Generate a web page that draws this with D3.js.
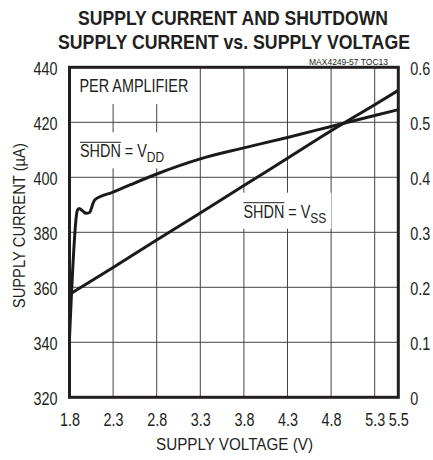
<!DOCTYPE html>
<html>
<head>
<meta charset="utf-8">
<script src="https://cdn.jsdelivr.net/npm/d3@7"></script>
<style>
body { margin: 0; background: #fff; }
svg text { font-family: "Liberation Sans", Arial, Helvetica, sans-serif; fill: #231f20; }
</style>
</head>
<body>
<svg width="433" height="460"></svg>
<script>
//Curve: SHDN = VDD, supply current in uA (left axis)
const vddVolts   = [1.80, 1.89, 1.91, 1.95, 1.99, 2.03, 2.07, 2.09, 2.30, 2.50, 2.80, 3.30, 3.80, 4.30, 4.80, 5.30, 5.50];
const vddCurrent = [341.5, 388.0, 388.7, 387.8, 386.9, 387.2, 390.5, 391.8, 394.6, 397.3, 401.2, 406.7, 410.7, 414.5, 418.5, 422.5, 424.6];
//SHDN = VSS, shutdown supply current in uA (right axis)
const vssVolts   = [1.83, 2.30, 2.80, 3.30, 3.80, 4.30, 4.80, 5.30, 5.50];
const vssCurrent = [0.190, 0.236, 0.286, 0.335, 0.385, 0.4345, 0.4845, 0.532, 0.558];
//Tick labels
const xTicks  = [1.8, 2.3, 2.8, 3.3, 3.8, 4.3, 4.8, 5.3, 5.5];
const yTicks  = [320, 340, 360, 380, 400, 420, 440];
const y2Ticks = [0, 0.1, 0.2, 0.3, 0.4, 0.5, 0.6];

//The reference uses a condensed face, so squeeze regular text horizontally
const squeeze = 0.8;
function narrow(sel) {
  sel.each(function() {
    let len = this.getComputedTextLength();
    d3.select(this).attr("textLength", len * squeeze).attr("lengthAdjust", "spacingAndGlyphs");
  });
}

let svg = d3.select("svg"),
    margin = {top: 67.3, right: 34.7, bottom: 62.7, left: 69.5},
    width = +svg.attr("width") - margin.left - margin.right,
    height = +svg.attr("height") - margin.top - margin.bottom;

//the original axis is stretched between 5.3 and 5.5
let x = d3.scaleLinear().domain([1.8, 5.3, 5.5]).range([0, 305.2, width]),
    y = d3.scaleLinear().domain([320, 440]).range([height, 0]),
    y2 = d3.scaleLinear().domain([0, 0.6]).range([height, 0]);

let g = svg.append("g")
    .attr("transform", "translate(" + margin.left + "," + margin.top + ")");

//Gridlines
let grid = g.append("g");
grid.selectAll(".vgrid")
  .data(xTicks.slice(1, -1))
  .enter().append("line")
  .attr("class", "vgrid")
  .attr("x1", d => x(d)).attr("x2", d => x(d))
  .attr("y1", 0).attr("y2", height)
  .attr("stroke", "#444").attr("stroke-width", 1);

grid.selectAll(".hgrid")
  .data(yTicks.slice(1, -1))
  .enter().append("line")
  .attr("class", "hgrid")
  .attr("x1", 0).attr("x2", width)
  .attr("y1", d => y(d)).attr("y2", d => y(d))
  .attr("stroke", "#444").attr("stroke-width", 1);

//Axes (labels only, the frame is drawn below)
let yAxis = g.append("g").call(d3.axisLeft(y).tickValues(yTicks).tickSize(0).tickPadding(12));
let y2Axis = g.append("g").attr("transform", "translate(" + width + ",0)")
  .call(d3.axisRight(y2).tickValues(y2Ticks).tickSize(0).tickPadding(12).tickFormat(d => String(d)));
let xAxis = g.append("g").attr("transform", "translate(0," + height + ")")
  .call(d3.axisBottom(x).tickValues(xTicks).tickSize(0).tickFormat(d => d.toFixed(1)));

[yAxis, y2Axis, xAxis].forEach(a => {
  a.select(".domain").remove();
  a.selectAll("text").style("font-size", "18px").attr("fill", "#231f20");
  narrow(a.selectAll("text"));
});
yAxis.selectAll("text").attr("dy", "0.42em");
y2Axis.selectAll("text").attr("dy", "0.42em");
xAxis.selectAll("text").attr("y", 28.4).attr("dy", null);

//Label with a white box behind it so the gridlines stop around it
let labels = g.append("g");
function label(px, py, parts, boxPad) {
  let t = labels.append("text").attr("x", px).attr("y", py).style("font-size", "18px");
  parts.forEach(p => {
    let s = t.append("tspan").text(p.text);
    if (p.sub) s.style("font-size", "15px").attr("dy", 5);
  });
  let overLen = t.node().getSubStringLength(0, parts[0].text.length) * squeeze;
  narrow(t);
  let b = t.node().getBBox();
  labels.insert("rect", () => t.node())
    .attr("x", b.x - boxPad[0]).attr("y", b.y - boxPad[1])
    .attr("width", b.width + 2 * boxPad[0]).attr("height", b.height + boxPad[1] + boxPad[2])
    .attr("fill", "#fff");
  //overline for SHDN
  if (parts[0].over) {
    labels.append("line")
      .attr("x1", px).attr("x2", px + overLen)
      .attr("y1", py - 15).attr("y2", py - 15)
      .attr("stroke", "#231f20").attr("stroke-width", 1);
  }
  return t;
}

label(10, 24.8, [{text: "PER AMPLIFIER"}], [6, 30, 8]);
label(10.5, 90, [{text: "SHDN", over: true}, {text: " = V"}, {text: "DD", sub: true}], [5, 9, 3]);
label(174, 150.4, [{text: "SHDN", over: true}, {text: " = V"}, {text: "SS", sub: true}], [5, 9, 3]);

//Curves
let lineVdd = d3.line().x((d, i) => x(vddVolts[i])).y(d => y(d)).curve(d3.curveMonotoneX);
let lineVss = d3.line().x((d, i) => x(vssVolts[i])).y(d => y2(d)).curve(d3.curveMonotoneX);

g.append("path").datum(vddCurrent)
  .attr("d", lineVdd)
  .attr("fill", "none").attr("stroke", "#1a1a1a").attr("stroke-width", 3).attr("stroke-linejoin", "round");
g.append("path").datum(vssCurrent)
  .attr("d", lineVss)
  .attr("fill", "none").attr("stroke", "#1a1a1a").attr("stroke-width", 3);

//Frame
g.append("rect")
  .attr("width", width).attr("height", height)
  .attr("fill", "none").attr("stroke", "#231f20").attr("stroke-width", 3);

//Titles
svg.append("text").attr("x", 233).attr("y", 25).attr("text-anchor", "middle")
  .style("font-size", "21px").style("font-weight", "bold")
  .attr("textLength", 310).attr("lengthAdjust", "spacingAndGlyphs")
  .text("SUPPLY CURRENT AND SHUTDOWN");
svg.append("text").attr("x", 234).attr("y", 49).attr("text-anchor", "middle")
  .style("font-size", "21px").style("font-weight", "bold")
  .attr("textLength", 352).attr("lengthAdjust", "spacingAndGlyphs")
  .text("SUPPLY CURRENT vs. SUPPLY VOLTAGE");
svg.append("text").attr("x", 388).attr("y", 65).attr("text-anchor", "end")
  .style("font-size", "9.5px")
  .attr("textLength", 79).attr("lengthAdjust", "spacingAndGlyphs")
  .text("MAX4249-57 TOC13");

//Axis titles
svg.append("text").attr("x", 234.5).attr("y", 450).attr("text-anchor", "middle")
  .style("font-size", "16px")
  .attr("textLength", 157).attr("lengthAdjust", "spacingAndGlyphs")
  .text("SUPPLY VOLTAGE (V)");
svg.append("text").attr("transform", "translate(25,225.7) rotate(-90)").attr("text-anchor", "middle")
  .style("font-size", "16px")
  .attr("textLength", 165).attr("lengthAdjust", "spacingAndGlyphs")
  .text("SUPPLY CURRENT (\u00b5A)");
</script>
</body>
</html>
